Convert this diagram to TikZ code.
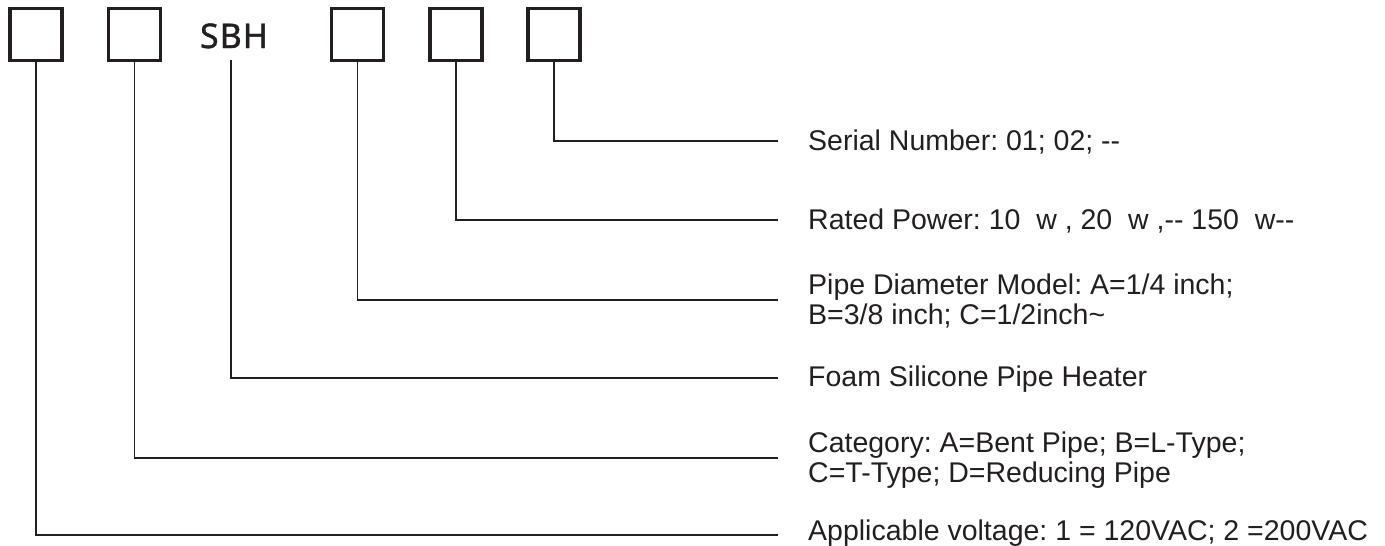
\documentclass[tikz,border=0pt]{standalone}
\usepackage{fontspec}
\setmainfont{Liberation Sans}
\newfontfamily\codefont[LetterSpace=3,FakeBold=1.2]{Noto Sans}
\definecolor{ink}{HTML}{231F20}
\frenchspacing
\begin{document}
\begin{tikzpicture}[x=1pt,y=-1pt,
  codebox/.style={draw=ink,line width=3.2pt,minimum width=52pt,minimum height=52pt,inner sep=0pt},
  lead/.style={draw=ink,line width=1.8pt},
  desc/.style={anchor=base west,inner sep=0pt,text=ink,
    font=\fontsize{28.5}{30}\selectfont}]
\useasboundingbox (0,0) rectangle (1385,546);

% code positions
\node[codebox] (b1) at (36,34.5) {};
\node[codebox] (b2) at (134.5,34.5) {};
\node[text=ink,inner sep=0pt,anchor=base,font=\codefont\fontsize{34}{34}\selectfont] (sbh) at (234,48) {SBH};
\coordinate (s) at (231,60);
\node[codebox] (b4) at (357.5,34.5) {};
\node[codebox] (b5) at (456,34.5) {};
\node[codebox] (b6) at (554,34.5) {};

% end points of the leaders
\coordinate (e6) at (778,141);
\coordinate (e5) at (778,220);
\coordinate (e4) at (778,300);
\coordinate (e3) at (778,378);
\coordinate (e2) at (778,458);
\coordinate (e1) at (778,535);

% descriptions
\node[desc] (t6) at (808,150) {Serial Number: 01; 02; -{}-};
\node[desc] (t5) at (808,229) {Rated Power: 10\ \ w , 20\ \ w ,-{}- 150\ \ w-{}-};
\node[desc] (t4a) at (808,294) {Pipe Diameter Model: A=1/4 inch;};
\node[desc] (t4b) at (808,324) {B=3/8 inch; C=1/2inch\textasciitilde};
\node[desc] (t3) at (808,386) {Foam Silicone Pipe Heater};
\node[desc] (t2a) at (808,452) {Category: A=Bent Pipe; B=L-Type;};
\node[desc] (t2b) at (808,482) {C=T-Type; D=Reducing Pipe};
\node[desc] (t1) at (808,540) {Applicable voltage: 1 = 120VAC; 2 =200VAC};

% leaders
\draw[lead] (b6.south) |- (e6);
\draw[lead] (b5.south) |- (e5);
\draw[lead] (b4.south) |- (e4);
\draw[lead] (s) |- (e3);
\draw[lead] (b2.south) |- (e2);
\draw[lead] (b1.south) |- (e1);
\end{tikzpicture}
\end{document}
